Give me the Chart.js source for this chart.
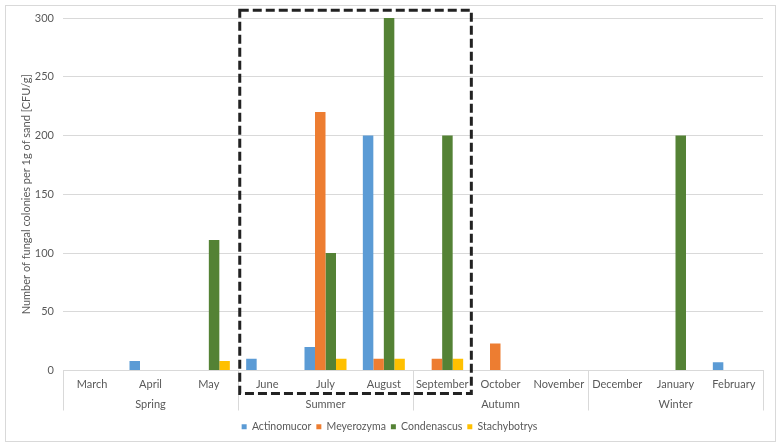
<!DOCTYPE html>
<html>
<head>
<meta charset="utf-8">
<script src="https://cdn.jsdelivr.net/npm/chart.js@4.4.1/dist/chart.umd.min.js"></script>
<style>
  html, body { margin: 0; padding: 0; background: #fff; }
  #wrap { position: relative; width: 781px; height: 448px; }
</style>
</head>
<body>
<div id="wrap"><canvas id="fungiChart"></canvas></div>
<script>
// --- Data ---
const months = ['March', 'April', 'May', 'June', 'July', 'August', 'September', 'October', 'November', 'December', 'January', 'February'];
const seasons = ['Spring', 'Summer', 'Autumn', 'Winter'];
const monthsPerSeason = 3;

const actinomucor = [0, 8, 0, 10, 20, 200, 0, 0, 0, 0, 0, 7];
const meyerozyma = [0, 0, 0, 0, 220, 10, 10, 23, 0, 0, 0, 0];
const condenascus = [0, 0, 111, 0, 100, 300, 200, 0, 0, 0, 200, 0];
const stachybotrys = [0, 0, 8, 0, 10, 10, 10, 0, 0, 0, 0, 0];

const yTicks = [0, 50, 100, 150, 200, 250, 300];

// highlighted summer window (category index range)
const boxFrom = 2.53;
const boxTo = 6.5;

const textColor = '#595959';
const lineColor = '#d9d9d9';
const fontFamily = 'Lato, "Noto Sans", sans-serif';

// outer chart border
const chartBorder = {
  id: 'chartBorder',
  beforeDraw(chart) {
    const ctx = chart.ctx;
    ctx.save();
    ctx.strokeStyle = lineColor;
    ctx.lineWidth = 1;
    ctx.strokeRect(5.5, 5.5, 770, 436);
    ctx.restore();
  }
};

// second level of the category axis: season labels + separators
const seasonAxis = {
  id: 'seasonAxis',
  afterDraw(chart) {
    const ctx = chart.ctx;
    const x = chart.scales.x;
    const area = chart.chartArea;
    ctx.save();
    ctx.strokeStyle = lineColor;
    ctx.lineWidth = 1;
    for (let i = 0; i <= seasons.length; i++) {
      const px = Math.round(x.getPixelForValue(i * monthsPerSeason - 0.5)) + 0.5;
      ctx.beginPath();
      ctx.moveTo(px, area.bottom);
      ctx.lineTo(px, area.bottom + 40);
      ctx.stroke();
    }
    ctx.fillStyle = textColor;
    ctx.font = '11px ' + fontFamily;
    ctx.textAlign = 'center';
    ctx.textBaseline = 'middle';
    seasons.forEach((s, i) => {
      const cx = x.getPixelForValue(i * monthsPerSeason + 1);
      ctx.fillText(s, cx, area.bottom + 34);
    });
    ctx.restore();
  }
};

// dashed rectangle round the summer months
const summerBox = {
  id: 'summerBox',
  afterDraw(chart) {
    const ctx = chart.ctx;
    const x = chart.scales.x;
    const y = chart.scales.y;
    const left = x.getPixelForValue(boxFrom);
    const right = x.getPixelForValue(boxTo);
    const top = y.getPixelForValue(306.5);
    const bottom = y.getPixelForValue(-19.5);
    ctx.save();
    ctx.strokeStyle = '#222222';
    ctx.lineWidth = 3;
    ctx.setLineDash([9, 4]);
    ctx.strokeRect(left, top, right - left, bottom - top);
    ctx.restore();
  }
};

Chart.defaults.font.family = fontFamily;
Chart.defaults.font.size = 11;
Chart.defaults.color = textColor;

new Chart(document.getElementById('fungiChart'), {
  type: 'bar',
  data: {
    labels: months,
    datasets: [
      { label: 'Actinomucor', data: actinomucor, backgroundColor: '#5B9BD5' },
      { label: 'Meyerozyma', data: meyerozyma, backgroundColor: '#ED7D31' },
      { label: 'Condenascus', data: condenascus, backgroundColor: '#548235' },
      { label: 'Stachybotrys', data: stachybotrys, backgroundColor: '#FFC000' }
    ]
  },
  options: {
    responsive: true,
    maintainAspectRatio: false,
    animation: false,
    layout: { padding: { left: 16, right: 18, top: 18, bottom: 6 } },
    datasets: { bar: { categoryPercentage: 0.72, barPercentage: 1 } },
    scales: {
      x: {
        grid: { display: false, drawTicks: false },
        border: { display: true, color: lineColor },
        ticks: { padding: 7, color: textColor, maxRotation: 0, autoSkip: false },
        afterFit: (s) => { s.height = 46; }
      },
      y: {
        min: 0,
        max: 300,
        afterBuildTicks: (s) => { s.ticks = yTicks.map(v => ({ value: v })); },
        afterFit: (s) => { s.width = 47; },
        grid: { color: lineColor, drawTicks: false },
        border: { display: false },
        ticks: { padding: 9, color: textColor },
        title: {
          display: true,
          text: 'Number of fungal colonies per 1g of sand [CFU/g]',
          color: textColor,
          font: { size: 11 },
          padding: { top: 4, bottom: 0 }
        }
      }
    },
    plugins: {
      legend: {
        position: 'bottom',
        labels: { boxWidth: 5, boxHeight: 5, padding: 5, color: textColor, font: { size: 10.5 } }
      },
      tooltip: { enabled: false }
    }
  },
  plugins: [chartBorder, seasonAxis, summerBox]
});
</script>
</body>
</html>
